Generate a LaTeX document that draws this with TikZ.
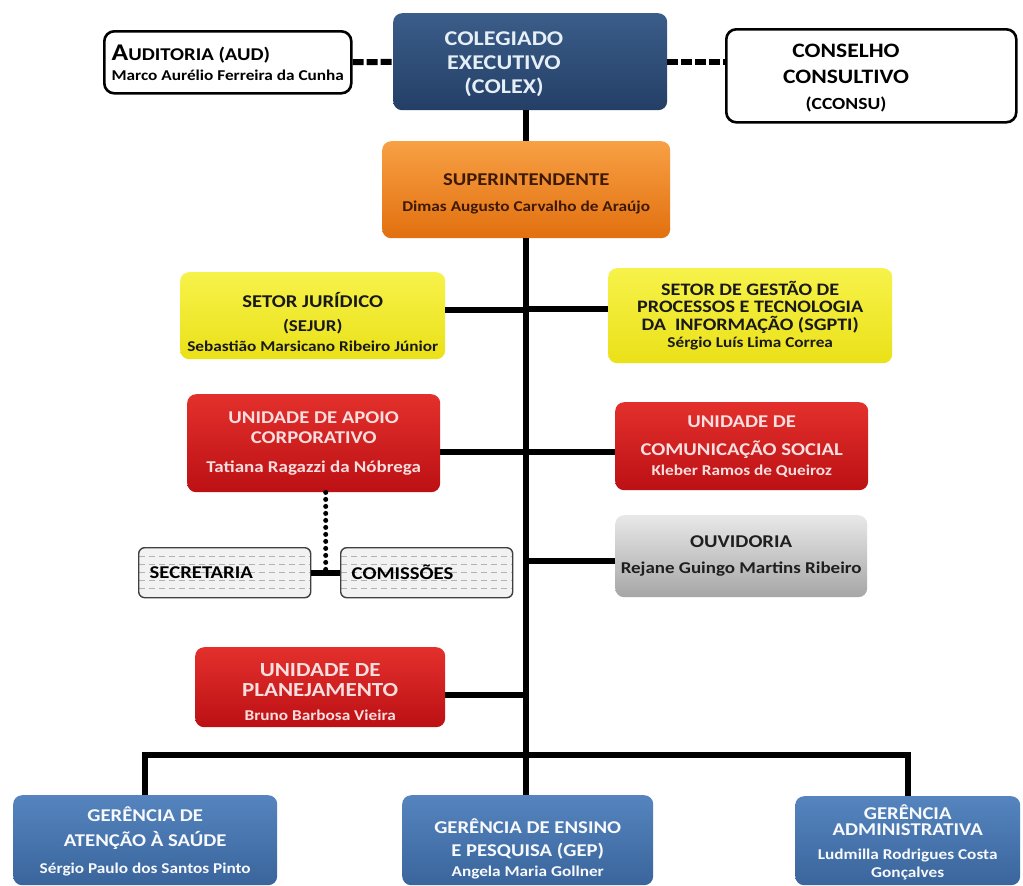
\documentclass[tikz,border=0pt]{standalone}
\usepackage{fontspec}
\setmainfont{Carlito}[FakeStretch=1.15]
\usetikzlibrary{calc}

\definecolor{colexA}{HTML}{3A5D89}
\definecolor{colexB}{HTML}{243F66}
\definecolor{gerA}{HTML}{5584BE}
\definecolor{gerB}{HTML}{3A659C}
\definecolor{oranA}{HTML}{F7A044}
\definecolor{oranB}{HTML}{E2700F}
\definecolor{yelA}{HTML}{F7F24A}
\definecolor{yelB}{HTML}{EAE118}
\definecolor{redA}{HTML}{E3302C}
\definecolor{redB}{HTML}{BC1014}
\definecolor{greyA}{HTML}{E8E8E8}
\definecolor{greyB}{HTML}{A6A6A6}
\definecolor{paleblue}{HTML}{E6EEF6}
\definecolor{palered}{HTML}{F8DEDE}
\definecolor{brownish}{HTML}{3E1904}

\newcommand{\namefont}{\fontsize{15}{18}\selectfont}
\newcommand{\pushdown}[1]{\rule{0pt}{#1pt}}

\tikzset{
  orgbox/.style={rounded corners=9pt, anchor=north west, align=center, inner sep=2pt,
    font=\bfseries\fontsize{18}{20}\selectfont},
  whitebox/.style={orgbox, draw=black, line width=2.6pt, fill=white, rounded corners=10pt},
  colexbox/.style={orgbox, top color=colexA, bottom color=colexB},
  superbox/.style={orgbox, top color=oranA, bottom color=oranB, text=brownish},
  yelbox/.style={orgbox, top color=yelA, bottom color=yelB, text=black!90},
  redbox/.style={orgbox, top color=redA, bottom color=redB, text=palered},
  greybox/.style={orgbox, top color=greyA, bottom color=greyB, text=black!88},
  gerbox/.style={orgbox, top color=gerA, bottom color=gerB, text=white!95!gerA},
  dashbox/.style={orgbox, rounded corners=6pt, draw=black!75, line width=1.4pt, fill=black!5,
    align=left, text width=150pt, inner xsep=11pt, minimum height=50pt,
    path picture={
      \foreach \k in {0.18,0.34,0.5,0.66,0.82}
        \draw[black!30, line width=0.6pt, dash pattern=on 6pt off 4pt]
          ($(path picture bounding box.north west)!\k!(path picture bounding box.south west)$) --
          ($(path picture bounding box.north east)!\k!(path picture bounding box.south east)$);
    }},
  conn/.style={line width=6pt, black},
  dashconn/.style={line width=6pt, black, dash pattern=on 11pt off 3pt},
  dotconn/.style={line width=5pt, black, line cap=round, dash pattern=on 0pt off 7pt},
}

\begin{document}
\begin{tikzpicture}[x=1pt, y=-1pt]
  \path[use as bounding box, fill=white] (0,0) rectangle (1023,886);

  % top level
  \node[whitebox, minimum width=247pt, minimum height=62pt, align=left] (aud) at (103,30)
    {{\fontsize{24}{20}\selectfont A}UDITORIA (AUD)\\{\namefont Marco Aurélio Ferreira da Cunha}};
  \node[colexbox, minimum width=274pt, minimum height=97pt] (colex) at (393,13) {};
  \node[font=\bfseries\fontsize{21}{24}\selectfont, text=paleblue, align=center] (colex-txt) at (504,64)
    {COLEGIADO\\EXECUTIVO\\(COLEX)};
  \node[whitebox, minimum width=290pt, minimum height=93pt] (cconsu) at (725,28) {};
  \node[font=\bfseries\fontsize{20.5}{26}\selectfont, align=center] (cconsu-txt) at (846,78)
    {CONSELHO\\CONSULTIVO\\{\fontsize{17}{20}\selectfont(CCONSU)}};

  \node[superbox, minimum width=288pt, minimum height=97pt] (super) at (382,141)
    {\pushdown{20}SUPERINTENDENTE\\[6pt]{\namefont Dimas Augusto Carvalho de Araújo}};

  % staff units
  \node[yelbox, minimum width=265pt, minimum height=87pt] (sejur) at (180,272)
    {\pushdown{28}SETOR JURÍDICO\\[4pt]{\fontsize{16.5}{20}\selectfont (SEJUR)}\\{\namefont Sebastião Marsicano Ribeiro Júnior}};
  \node[yelbox, minimum width=284pt, minimum height=95pt, font=\bfseries\fontsize{17.5}{17.5}\selectfont] (sgpti) at (608,268)
    {SETOR DE GESTÃO DE\\PROCESSOS E TECNOLOGIA\\DA~~INFORMAÇÃO (SGPTI)\\{\namefont Sérgio Luís Lima Correa}};
  \node[redbox, minimum width=253pt, minimum height=98pt] (uac) at (187,394)
    {UNIDADE DE APOIO\\CORPORATIVO\\[9pt]{\fontsize{16.5}{18}\selectfont Tatiana Ragazzi da Nóbrega}};
  \node[redbox, minimum width=253pt, minimum height=88pt] (ucs) at (615,402)
    {UNIDADE DE\\[8pt]COMUNICAÇÃO SOCIAL\\{\namefont Kleber Ramos de Queiroz}};
  \node[dashbox] (secr) at (138,547) {SECRETARIA};
  \node[dashbox] (comis) at (340,547) {COMISSÕES};
  \node[greybox, minimum width=252pt, minimum height=82pt] (ouv) at (615,515)
    {OUVIDORIA\\[6pt]{\fontsize{16.5}{18}\selectfont Rejane Guingo Martins Ribeiro}};
  \node[redbox, minimum width=250pt, minimum height=80pt, font=\bfseries\fontsize{20}{20}\selectfont] (plan) at (195,647)
    {\pushdown{22}UNIDADE DE\\PLANEJAMENTO\\[4pt]{\namefont Bruno Barbosa Vieira}};

  % gerencias
  \node[gerbox, minimum width=264pt, minimum height=90pt] (gas) at (13,795)
    {\pushdown{18}GERÊNCIA DE\\[5pt]ATENÇÃO À SAÚDE\\[7pt]{\namefont Sérgio Paulo dos Santos Pinto}};
  \node[gerbox, minimum width=251pt, minimum height=90pt] (gep) at (402,795)
    {\pushdown{32}GERÊNCIA DE ENSINO\\[3pt]E PESQUISA (GEP)\\{\namefont Angela Maria Gollner}};
  \node[gerbox, minimum width=225pt, minimum height=89pt, font=\bfseries\fontsize{18}{16}\selectfont] (ga) at (795,796)
    {\pushdown{18}GERÊNCIA\\ADMINISTRATIVA\\[8pt]{\namefont Ludmilla Rodrigues Costa}\\[2pt]{\namefont Gonçalves}};

  % connectors
  \draw[dashconn] (aud) -- (colex);
  \draw[dashconn] (colex.east) -- (colex.east -| cconsu.west);
  \draw[conn] (super.north |- colex.south) -- (super.north);
  \draw[conn] (super.south) -- (super.south |- gep.north);
  \draw[conn] ([yshift=6pt]sejur.east) -- ([yshift=6pt]sejur.east -| super.south);
  \draw[conn] ([yshift=7pt]sgpti.west) -- ([yshift=7pt]sgpti.west -| super.south);
  \draw[conn] ([yshift=-9pt]uac.east) -- ([yshift=-9pt]uac.east -| super.south);
  \draw[conn] ([yshift=-6pt]ucs.west) -- ([yshift=-6pt]ucs.west -| super.south);
  \draw[conn] ([yshift=-5pt]ouv.west) -- ([yshift=-5pt]ouv.west -| super.south);
  \draw[conn] ([yshift=-8pt]plan.east) -- ([yshift=-8pt]plan.east -| super.south);
  \draw[conn] (secr) -- (comis);
  \coordinate (sc) at ($(secr.east)!.5!(comis.west)$);
  \draw[dotconn] (sc |- uac.south) -- (sc);
  \coordinate (bus) at (526,755);
  \draw[conn] (gas.north) |- (bus) -| (ga.north);
\end{tikzpicture}
\end{document}
